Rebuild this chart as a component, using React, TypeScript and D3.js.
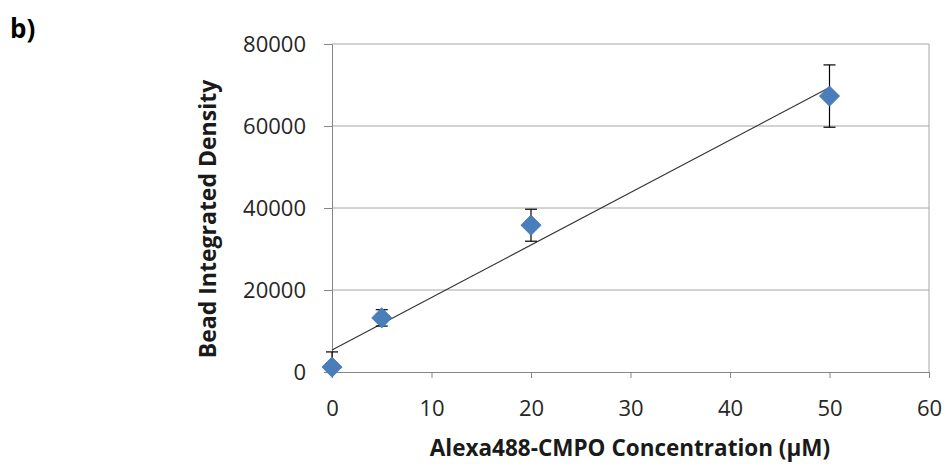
import React, { useRef, useEffect } from "react";
import * as d3 from "d3";

// data
const concentrations = [0, 5, 20, 50];
const densities = [1200, 13200, 35800, 67300];
const errors = [3700, 2000, 3900, 7600];
const xTicks = [0, 10, 20, 30, 40, 50, 60];
const yTicks = [0, 20000, 40000, 60000, 80000];

const width = 946;
const height = 467;

export default function App() {
  const ref = useRef<SVGSVGElement>(null);

  useEffect(() => {
    const svg = d3.select(ref.current);
    svg.selectAll("*").remove();

    const margin = { top: 44, right: 17, bottom: 95, left: 332 };
    const innerWidth = width - margin.left - margin.right;
    const innerHeight = height - margin.top - margin.bottom;
    const font = "'Open Sans', 'Liberation Sans', sans-serif";

    const x = d3.scaleLinear().domain([0, 60]).range([0, innerWidth]);
    const y = d3.scaleLinear().domain([0, 80000]).range([innerHeight, 0]);

    svg
      .append("clipPath")
      .attr("id", "plot-clip")
      .append("rect")
      .attr("x", -20)
      .attr("y", -10)
      .attr("width", innerWidth + 40)
      .attr("height", innerHeight + 10);

    const g = svg
      .append("g")
      .attr("transform", `translate(${margin.left},${margin.top})`);

    // grid
    g.selectAll(".grid")
      .data(yTicks.filter((t) => t > 0))
      .enter()
      .append("line")
      .attr("x1", 0)
      .attr("x2", innerWidth)
      .attr("y1", (d) => y(d))
      .attr("y2", (d) => y(d))
      .attr("stroke", "#a6a6a6")
      .attr("stroke-width", 1);

    // right border
    g.append("line")
      .attr("x1", innerWidth)
      .attr("x2", innerWidth)
      .attr("y1", 0)
      .attr("y2", innerHeight)
      .attr("stroke", "#a6a6a6");

    // axes
    const xAxis = d3.axisBottom(x).tickValues(xTicks).tickSize(6);
    const yAxis = d3
      .axisLeft(y)
      .tickValues(yTicks)
      .tickSize(8)
      .tickPadding(18)
      .tickFormat(d3.format("d"));

    const xg = g
      .append("g")
      .attr("transform", `translate(0,${innerHeight})`)
      .call(xAxis);
    const yg = g.append("g").call(yAxis);

    [xg, yg].forEach((a) => {
      a.select(".domain").attr("stroke", "#868686");
      a.selectAll(".tick line").attr("stroke", "#868686");
      a.selectAll(".tick text")
        .attr("fill", "#262626")
        .attr("font-family", font)
        .attr("font-size", 22);
    });
    xg.selectAll(".tick text").attr("dy", "0.35em").attr("y", 36);

    // trendline (least squares)
    const mx = d3.mean(concentrations)!;
    const my = d3.mean(densities)!;
    const sxy = d3.sum(concentrations, (c, i) => (c - mx) * (densities[i] - my));
    const sxx = d3.sum(concentrations, (c) => (c - mx) ** 2);
    const slope = sxy / sxx;
    const intercept = my - slope * mx;
    g.append("line")
      .attr("x1", x(0))
      .attr("x2", x(50))
      .attr("y1", y(intercept))
      .attr("y2", y(intercept + slope * 50))
      .attr("stroke", "#333")
      .attr("stroke-width", 1.2);

    // error bars
    const pts = concentrations.map((c, i) => ({ c, v: densities[i], e: errors[i] }));
    const eb = g
      .append("g")
      .attr("clip-path", "url(#plot-clip)")
      .selectAll(".err")
      .data(pts)
      .enter()
      .append("g");
    eb.append("line")
      .attr("x1", (d) => x(d.c))
      .attr("x2", (d) => x(d.c))
      .attr("y1", (d) => y(d.v + d.e))
      .attr("y2", (d) => y(d.v - d.e))
      .attr("stroke", "#000")
      .attr("stroke-width", 1.2);
    eb.selectAll(".cap")
      .data((d) => [
        { c: d.c, v: d.v + d.e },
        { c: d.c, v: d.v - d.e },
      ])
      .enter()
      .append("line")
      .attr("x1", (d) => x(d.c) - 6)
      .attr("x2", (d) => x(d.c) + 6)
      .attr("y1", (d) => y(d.v))
      .attr("y2", (d) => y(d.v))
      .attr("stroke", "#000")
      .attr("stroke-width", 1.2);

    // markers
    const diamond = d3.symbol().type(d3.symbolDiamond2).size(260);
    g.selectAll(".pt")
      .data(pts)
      .enter()
      .append("path")
      .attr("d", diamond)
      .attr("transform", (d) => `translate(${x(d.c)},${y(d.v)})`)
      .attr("fill", "#4a7ebb")
      .attr("stroke", "#4175b3")
      .attr("stroke-width", 0.8);

    // axis titles
    svg
      .append("text")
      .attr("x", 630)
      .attr("y", 456)
      .attr("text-anchor", "middle")
      .attr("font-family", font)
      .attr("font-weight", "bold")
      .attr("font-size", 22.5)
      .attr("fill", "#1a1a1a")
      .text("Alexa488-CMPO Concentration (µM)");

    svg
      .append("text")
      .attr("transform", `translate(216,219) rotate(-90)`)
      .attr("text-anchor", "middle")
      .attr("font-family", font)
      .attr("font-weight", "bold")
      .attr("font-size", 23)
      .attr("fill", "#1a1a1a")
      .text("Bead Integrated Density");

    svg
      .append("text")
      .attr("x", 10)
      .attr("y", 38)
      .attr("font-family", font)
      .attr("font-weight", "bold")
      .attr("font-size", 26)
      .attr("fill", "#000")
      .text("b)");
  }, []);

  return (
    <svg
      ref={ref}
      width={width}
      height={height}
      style={{ position: "absolute", left: 0, top: 0, background: "#fff" }}
    />
  );
}
